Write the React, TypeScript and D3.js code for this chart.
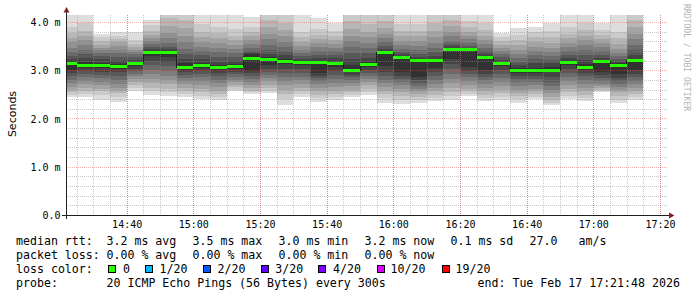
import React from "react";
import * as d3 from "d3";

// ---- data ----
const barEnds = [
  "14:25","14:30","14:35","14:40","14:45","14:50","14:55",
  "15:00","15:05","15:10","15:15","15:20","15:25","15:30","15:35","15:40","15:45","15:50","15:55",
  "16:00","16:05","16:10","16:15","16:20","16:25","16:30","16:35","16:40","16:45","16:50","16:55",
  "17:00","17:05","17:10","17:15",
];

const medians = [
  3.136, 3.10, 3.10, 3.074, 3.14, 3.364, 3.364, 3.06, 3.10, 3.047, 3.08, 3.247,
  3.226, 3.19, 3.16, 3.17, 3.13, 3.005, 3.115, 3.364, 3.268, 3.212, 3.212, 3.44,
  3.42, 3.268, 3.136, 2.99, 2.99, 3.005, 3.157, 3.047, 3.171, 3.10, 3.205,
];

// 20 sorted ping rtts (ms) per 5-minute step
const pings = [
  [2.44,2.49,2.55,2.59,2.66,2.74,2.80,2.88,2.94,3.00,3.19,3.23,3.30,3.37,3.46,3.58,3.67,3.77,3.90,4.25],
  [2.44,2.50,2.56,2.64,2.72,2.78,2.86,2.92,2.98,3.04,3.17,3.26,3.34,3.42,3.52,3.62,3.72,3.82,3.98,4.20],
  [2.38,2.48,2.56,2.62,2.70,2.76,2.84,2.90,2.96,3.04,3.16,3.24,3.30,3.36,3.42,3.47,3.53,3.60,3.68,3.75],
  [2.35,2.44,2.52,2.58,2.64,2.72,2.80,2.88,2.96,3.02,3.13,3.20,3.28,3.35,3.42,3.50,3.58,3.64,3.72,3.80],
  [2.58,2.64,2.70,2.76,2.82,2.88,2.93,2.98,3.02,3.08,3.18,3.22,3.28,3.33,3.38,3.43,3.48,3.55,3.62,3.80],
  [2.48,2.56,2.64,2.74,2.82,2.92,3.00,3.10,3.20,3.30,3.40,3.44,3.48,3.54,3.60,3.66,3.74,3.82,3.93,4.04],
  [2.47,2.54,2.62,2.72,2.80,2.88,2.98,3.08,3.18,3.28,3.40,3.44,3.48,3.56,3.66,3.78,3.92,4.08,4.25,4.40],
  [2.44,2.50,2.56,2.64,2.72,2.78,2.84,2.90,2.96,3.00,3.14,3.24,3.34,3.45,3.58,3.72,3.88,4.05,4.25,4.40],
  [2.40,2.47,2.54,2.62,2.70,2.78,2.86,2.92,2.98,3.04,3.16,3.24,3.32,3.40,3.48,3.58,3.68,3.80,3.95,4.25],
  [2.38,2.44,2.50,2.58,2.66,2.74,2.80,2.88,2.94,3.00,3.10,3.18,3.28,3.38,3.46,3.56,3.66,3.78,3.90,4.25],
  [2.56,2.60,2.65,2.70,2.75,2.80,2.86,2.92,2.97,3.02,3.13,3.20,3.28,3.36,3.44,3.52,3.62,3.72,3.85,4.25],
  [2.50,2.54,2.58,2.64,2.70,2.76,2.82,2.88,2.94,2.98,3.34,3.36,3.40,3.46,3.54,3.62,3.70,3.80,3.90,4.11],
  [2.53,2.58,2.64,2.70,2.78,2.84,2.90,2.96,3.02,3.10,3.28,3.34,3.42,3.52,3.64,3.76,3.90,4.05,4.25,4.40],
  [2.28,2.40,2.50,2.60,2.70,2.78,2.86,2.94,3.02,3.12,3.24,3.32,3.40,3.48,3.58,3.70,3.84,3.98,4.18,4.30],
  [2.45,2.50,2.56,2.64,2.72,2.80,2.86,2.94,3.02,3.10,3.20,3.24,3.30,3.36,3.42,3.50,3.58,3.68,3.80,4.25],
  [2.35,2.42,2.48,2.56,2.64,2.72,2.78,2.84,2.88,2.94,3.20,3.26,3.32,3.40,3.48,3.56,3.64,3.74,3.86,4.08],
  [2.38,2.44,2.50,2.58,2.66,2.74,2.82,2.90,2.98,3.06,3.18,3.26,3.32,3.40,3.46,3.54,3.62,3.72,3.82,3.98],
  [2.44,2.48,2.54,2.60,2.68,2.74,2.80,2.86,2.90,2.96,3.10,3.24,3.36,3.48,3.60,3.72,3.86,4.02,4.22,4.40],
  [2.49,2.55,2.62,2.70,2.76,2.82,2.88,2.94,3.00,3.06,3.18,3.26,3.36,3.46,3.56,3.68,3.80,3.95,4.15,4.30],
  [2.33,2.42,2.50,2.58,2.66,2.74,2.80,2.88,2.96,3.08,3.40,3.44,3.50,3.58,3.66,3.76,3.88,4.02,4.20,4.35],
  [2.30,2.38,2.46,2.54,2.62,2.70,2.76,2.82,2.88,2.96,3.30,3.34,3.38,3.44,3.52,3.60,3.70,3.82,3.96,4.25],
  [2.32,2.38,2.44,2.50,2.56,2.62,2.68,2.74,2.80,2.86,3.24,3.28,3.34,3.42,3.50,3.60,3.70,3.82,3.96,4.20],
  [2.37,2.42,2.48,2.56,2.64,2.72,2.80,2.88,2.96,3.04,3.24,3.30,3.38,3.46,3.56,3.68,3.82,3.98,4.18,4.30],
  [2.38,2.46,2.54,2.64,2.74,2.82,2.92,3.02,3.12,3.24,3.46,3.50,3.54,3.60,3.70,3.80,3.92,4.04,4.20,4.35],
  [2.47,2.50,2.56,2.62,2.70,2.78,2.86,2.92,2.98,3.06,3.44,3.46,3.50,3.56,3.64,3.72,3.80,3.90,4.02,4.25],
  [2.37,2.42,2.48,2.56,2.64,2.72,2.80,2.86,2.92,3.00,3.30,3.34,3.40,3.46,3.54,3.62,3.72,3.84,3.98,4.25],
  [2.38,2.45,2.52,2.60,2.68,2.76,2.84,2.92,3.00,3.08,3.18,3.22,3.28,3.34,3.40,3.46,3.52,3.60,3.68,3.77],
  [2.33,2.40,2.46,2.52,2.60,2.68,2.76,2.82,2.88,2.94,3.04,3.10,3.18,3.26,3.34,3.42,3.52,3.62,3.74,3.87],
  [2.40,2.45,2.50,2.56,2.62,2.70,2.76,2.82,2.88,2.94,3.04,3.14,3.24,3.32,3.40,3.48,3.58,3.68,3.80,3.90],
  [2.28,2.32,2.38,2.44,2.52,2.60,2.68,2.76,2.86,2.96,3.06,3.14,3.22,3.30,3.38,3.46,3.56,3.68,3.82,3.97],
  [2.40,2.46,2.54,2.62,2.70,2.78,2.86,2.94,3.02,3.10,3.20,3.26,3.32,3.40,3.48,3.56,3.66,3.76,3.90,4.25],
  [2.37,2.42,2.48,2.56,2.64,2.72,2.80,2.88,2.94,3.00,3.12,3.22,3.32,3.42,3.52,3.62,3.72,3.84,3.98,4.25],
  [2.54,2.57,2.60,2.64,2.68,2.72,2.78,2.84,2.90,2.96,3.20,3.26,3.32,3.40,3.48,3.56,3.64,3.74,3.84,3.97],
  [2.32,2.39,2.46,2.54,2.60,2.66,2.72,2.78,2.84,2.92,3.14,3.18,3.24,3.30,3.36,3.44,3.54,3.66,3.80,4.25],
  [2.38,2.44,2.50,2.56,2.64,2.72,2.78,2.86,2.92,3.00,3.24,3.32,3.42,3.52,3.64,3.76,3.90,4.05,4.25,4.40],
];

const yTicks = [0, 1, 2, 3, 4];
const yTickLabels = ["0.0", "1.0 m", "2.0 m", "3.0 m", "4.0 m"];
const xTickLabels = ["14:40", "15:00", "15:20", "15:40", "16:00", "16:20", "16:40", "17:00", "17:20"];

const lossLabels = ["0", "1/20", "2/20", "3/20", "4/20", "10/20", "19/20"];
const lossColors = ["#26ff00", "#00b8ff", "#0059ff", "#5e00ff", "#7e00ff", "#dd00ff", "#ff0000"];

const statsRtt = ["3.2 ms avg", "3.5 ms max", "3.0 ms min", "3.2 ms now", "0.1 ms sd", "27.0", "am/s"];
const statsLoss = ["0.00 % avg", "0.00 % max", "0.00 % min", "0.00 % now"];
const probeText = "20 ICMP Echo Pings (56 Bytes) every 300s";
const endText = "end: Tue Feb 17 17:21:48 2026";

// ---- helpers ----
const day = (h: number, m: number, s = 0) => new Date(2026, 1, 17, h, m, s);
const parseHM = (t: string) => {
  const [h, m] = t.split(":").map(Number);
  return day(h, m);
};

const MONO = "'DejaVu Sans Mono', monospace";

export default function App() {
  const W = 697, H = 297;
  const left = 66, right = 666, top = 15, bottom = 215;

  const x = d3.scaleTime().domain([day(14, 21, 48), day(17, 21, 48)]).range([left, right]);
  const y = d3.scaleLinear().domain([0, 200 / 48.25]).range([bottom, top]);

  const bars = barEnds.map((e, i) => {
    const end = parseHM(e);
    const start = new Date(end.getTime() - 300000);
    return { x0: x(start), x1: x(end), med: medians[i], p: pings[i] };
  });

  const gray = (j: number) => {
    const c = Math.floor((190 / 10) * (10 - (j + 1))) + 50;
    return `rgb(${c},${c},${c})`;
  };

  const minorX = d3.timeMinute.every(5)!.range(day(14, 21, 48), day(17, 21, 49));
  const majorX = d3.timeMinute.every(20)!.range(day(14, 21, 48), day(17, 21, 49));
  const minorY = y.ticks(25).filter((v) => v > 0 && Math.abs(v - Math.round(v)) > 1e-6);
  const majorY = yTicks.filter((v) => v > 0);

  const medPts: [number, number][] = bars.map((b) => [b.x0, b.med]);
  medPts.push([bars[bars.length - 1].x1, bars[bars.length - 1].med]);
  const medLine = d3
    .line<[number, number]>()
    .x((d) => d[0])
    .y((d) => y(d[1]))
    .curve(d3.curveStepAfter)(medPts);

  const r = (v: number) => Math.round(v) + 0.5;

  const rttX = [106.5, 192.5, 278.5, 364.5, 450.5, 529.5, 578.5];
  const lossX = [106.5, 192.5, 278.5, 364.5];
  const boxX = [108, 145, 203, 261, 318, 377, 442];
  const boxLabelX = [123, 159.5, 217.5, 275.2, 333, 390.5, 455.5];

  return (
    <svg
      width={W}
      height={H}
      style={{ position: "absolute", left: 0, top: 0, display: "block" }}
    >
      <rect width={W} height={H} fill="#ffffff" />
      <defs>
        <clipPath id="plotclip">
          <rect x={left} y={top} width={right - left} height={bottom - top} />
        </clipPath>
      </defs>

      {/* smoke */}
      <g clipPath="url(#plotclip)" shapeRendering="crispEdges">
        {bars.map((b, i) =>
          d3.range(10).map((j) => {
            const lo = b.p[j];
            const hi = b.p[19 - j];
            return (
              <rect
                key={`s${i}-${j}`}
                x={b.x0}
                width={b.x1 - b.x0}
                y={y(hi)}
                height={y(lo) - y(hi)}
                fill={gray(j)}
              />
            );
          })
        )}
      </g>

      {/* grid */}
      <g strokeDasharray="1,1" strokeWidth={1} shapeRendering="crispEdges">
        {minorY.map((v, i) => (
          <line key={`my${i}`} x1={left} x2={right + 2} y1={r(y(v))} y2={r(y(v))} stroke="rgba(143,143,143,0.5)" />
        ))}
        {minorX.map((t, i) => (
          <line key={`mx${i}`} x1={r(x(t))} x2={r(x(t))} y1={top} y2={bottom} stroke="rgba(143,143,143,0.5)" />
        ))}
        {majorY.map((v, i) => (
          <line key={`My${i}`} x1={left} x2={right + 2} y1={r(y(v))} y2={r(y(v))} stroke="rgba(222,79,79,0.45)" />
        ))}
        {majorX.map((t, i) => (
          <line key={`Mx${i}`} x1={r(x(t))} x2={r(x(t))} y1={top} y2={bottom} stroke="rgba(222,79,79,0.45)" />
        ))}
      </g>

      {/* median */}
      <g clipPath="url(#plotclip)">
        <path d={medLine || ""} fill="none" stroke="#202020" strokeWidth={1} shapeRendering="crispEdges" />
        {bars.map((b, i) => (
          <rect
            key={`m${i}`}
            x={b.x0}
            width={b.x1 - b.x0}
            y={y(b.med) - 1.5}
            height={3}
            fill={lossColors[0]}
            shapeRendering="crispEdges"
          />
        ))}
      </g>

      {/* axes */}
      <g stroke="#1f1f1f" strokeWidth={1} shapeRendering="crispEdges">
        <line x1={62} x2={669} y1={bottom + 0.5} y2={bottom + 0.5} />
        <line x1={left + 0.5} x2={left + 0.5} y1={11} y2={219} />
      </g>
      <polygon points="63.5,12.5 69.5,12.5 66.5,7" fill="#801f1f" />
      <polygon points="669,212.5 669,218.5 674.5,215.5" fill="#801f1f" />

      {/* y tick labels */}
      <g fontFamily={MONO} fontSize={10} fill="#000" textAnchor="end">
        {yTicks.map((v, i) => (
          <text key={`yl${i}`} x={60.5} y={y(v) + 4}>
            {yTickLabels[i]}
          </text>
        ))}
      </g>

      {/* x tick labels */}
      <g fontFamily={MONO} fontSize={10} fill="#000" textAnchor="middle">
        {xTickLabels.map((lab, i) => (
          <text key={`xl${i}`} x={x(parseHM(lab)) + 0.5} y={228}>
            {lab}
          </text>
        ))}
      </g>

      {/* axis title */}
      <text
        transform="translate(15.5,114) rotate(-90)"
        textAnchor="middle"
        fontFamily="'DejaVu Sans', sans-serif"
        fontSize={11}
        fill="#000"
      >
        Seconds
      </text>

      {/* watermark */}
      <text
        transform="translate(684,4) rotate(90)"
        fontFamily={MONO}
        fontSize={8.1}
        fill="#b4b4b4"
        xmlSpace="preserve"
      >
        RRDTOOL / TOBI OETIKER
      </text>

      {/* legend */}
      <g fontFamily={MONO} fontSize={11.6} fill="#000" style={{ whiteSpace: "pre" }}>
        <text x={16} y={245}>median rtt:</text>
        {statsRtt.map((s, i) => (
          <text key={`r${i}`} x={rttX[i]} y={245}>{s}</text>
        ))}
        <text x={16} y={259}>packet loss:</text>
        {statsLoss.map((s, i) => (
          <text key={`l${i}`} x={lossX[i]} y={259}>{s}</text>
        ))}
        <text x={16} y={273}>loss color:</text>
        {lossLabels.map((s, i) => (
          <g key={`c${i}`}>
            <rect x={boxX[i] + 0.5} y={265.5} width={7} height={7} fill={lossColors[i]} stroke="#000" strokeWidth={1} shapeRendering="crispEdges" />
            <text x={boxLabelX[i]} y={273}>{s}</text>
          </g>
        ))}
        <text x={16} y={287}>probe:</text>
        <text x={106.5} y={287}>{probeText}</text>
        <text x={477.5} y={287}>{endText}</text>
      </g>
    </svg>
  );
}
